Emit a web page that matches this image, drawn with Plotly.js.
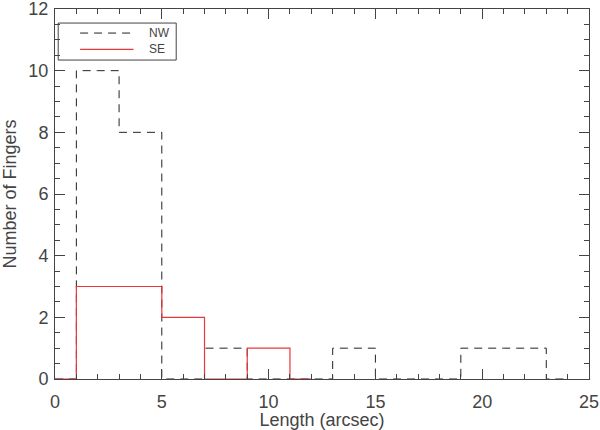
<!DOCTYPE html>
<html>
<head>
<meta charset="utf-8">
<script src="https://cdn.plot.ly/plotly-3.0.1.min.js"></script>
<style>html,body{margin:0;padding:0;background:#fff;}#chart{width:600px;height:430px;}</style>
</head>
<body>
<div id="chart"></div>
<script>
// Bin centres (arcsec) and counts per bin
const nwCenters = [0, 2, 4, 6, 8, 10, 12, 14, 16, 18, 20, 22, 24];
const nwCounts  = [0, 10, 8, 0, 1, 0, 0, 1, 0, 0, 1, 1, 0];
const seCenters = [0, 2, 4, 6, 8, 10, 12];
const seCounts  = [0, 3, 3, 2, 0, 1, 0];
const seriesNames = ["NW", "SE"];
const xTicks = [0, 5, 10, 15, 20, 25];
const yTicks = [0, 2, 4, 6, 8, 10, 12];

const textColor = "#444";
const axisColor = "#444";
const seColor = "#e8393a";
const nwDash = "8px,6px";
const fam = "Liberation Sans";

const traces = [
  {x: nwCenters, y: nwCounts, name: seriesNames[0], type: "scatter", mode: "lines",
   line: {shape: "hvh", color: "#222", width: 1, dash: nwDash}, showlegend: false},
  {x: seCenters, y: seCounts, name: seriesNames[1], type: "scatter", mode: "lines",
   line: {shape: "hvh", color: seColor, width: 1.2}, showlegend: false, cliponaxis: false}
];

const axisCommon = {
  showgrid: false, zeroline: false, showline: true, linecolor: axisColor, linewidth: 1,
  mirror: "ticks", ticks: "inside", tickcolor: axisColor, tickwidth: 1,
  ticklabeloverflow: "allow",
  tickfont: {family: fam, size: 18, color: textColor}
};

const layout = {
  width: 600, height: 430,
  margin: {l: 55, r: 11, t: 9, b: 51},
  paper_bgcolor: "#fff", plot_bgcolor: "#fff",
  font: {family: fam, color: textColor},
  xaxis: Object.assign({}, axisCommon, {
    range: [0, 25], tickvals: xTicks, ticktext: xTicks.map(String), ticklen: 10,
    ticklabelstandoff: 6,
    minor: {dtick: 1, tick0: 0, ticklen: 5, ticks: "inside", tickcolor: axisColor, tickwidth: 1},
    title: {text: "Length (arcsec)", font: {family: fam, size: 18, color: textColor}, standoff: 2}
  }),
  yaxis: Object.assign({}, axisCommon, {
    range: [0, 12], tickvals: yTicks, ticktext: yTicks.map(String), ticklen: 10,
    ticklabelstandoff: 2,
    minor: {dtick: 0.5, tick0: 0, ticklen: 5, ticks: "inside", tickcolor: axisColor, tickwidth: 1},
    title: {text: "Number of Fingers", font: {family: fam, size: 18, color: textColor}, standoff: 8}
  }),
  shapes: [
    {type: "rect", xref: "paper", yref: "paper", x0: 0.006, x1: 0.227, y0: 0.862, y1: 0.962,
     line: {color: axisColor, width: 1}, fillcolor: "rgba(0,0,0,0)"},
    {type: "line", xref: "paper", yref: "paper", x0: 0.047, x1: 0.147, y0: 0.935, y1: 0.935,
     line: {color: "#222", width: 1, dash: nwDash}},
    {type: "line", xref: "paper", yref: "paper", x0: 0.047, x1: 0.147, y0: 0.891, y1: 0.891,
     line: {color: seColor, width: 1.2}}
  ],
  annotations: [
    {xref: "paper", yref: "paper", x: 0.172, y: 0.935, text: seriesNames[0], showarrow: false,
     xanchor: "left", yanchor: "middle", font: {family: fam, size: 12, color: textColor}},
    {xref: "paper", yref: "paper", x: 0.172, y: 0.891, text: seriesNames[1], showarrow: false,
     xanchor: "left", yanchor: "middle", font: {family: fam, size: 12, color: textColor}}
  ]
};

Plotly.newPlot("chart", traces, layout, {displayModeBar: false, staticPlot: true});
</script>
</body>
</html>
